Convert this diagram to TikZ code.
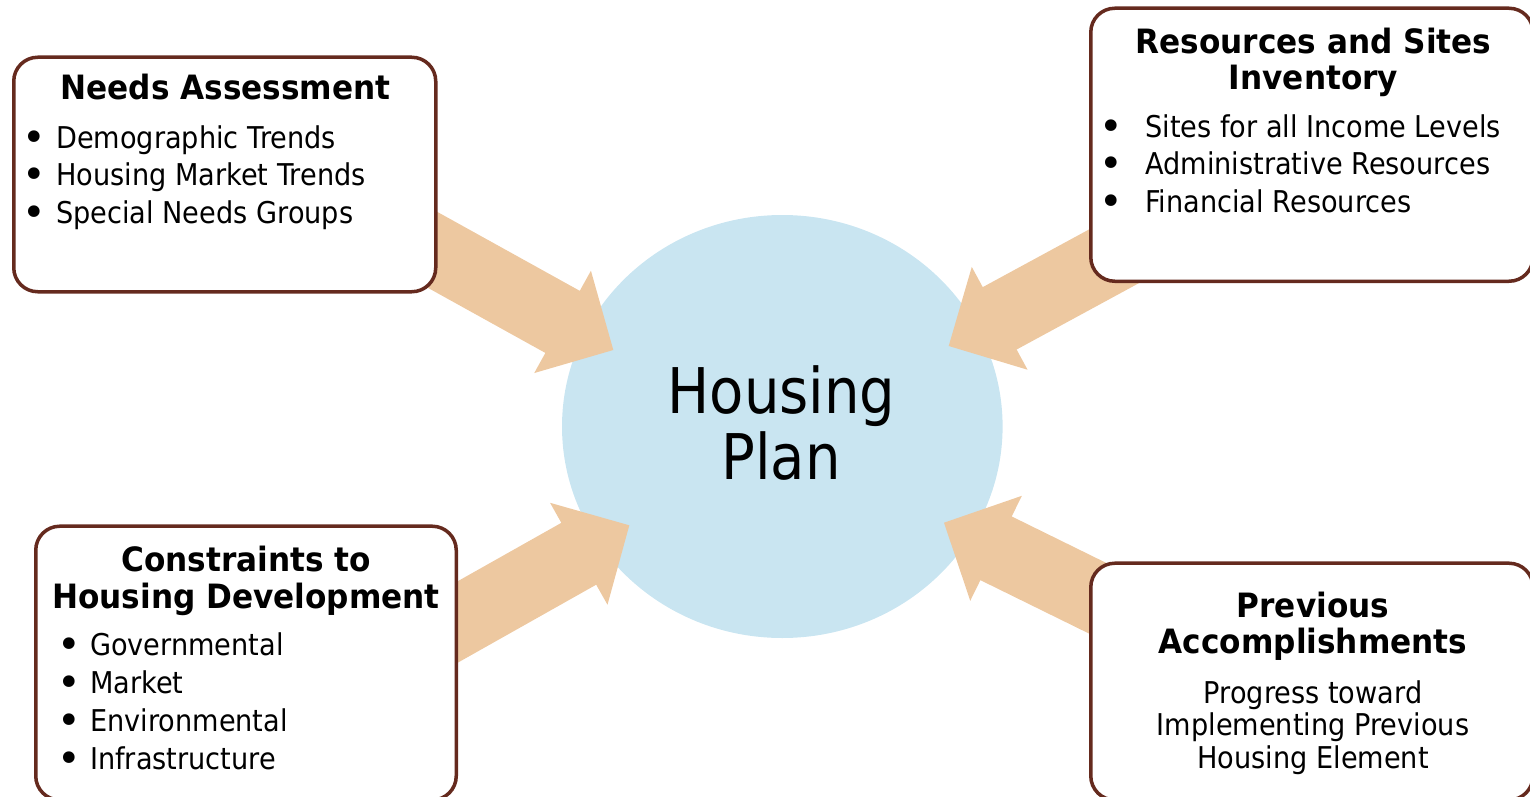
\documentclass[tikz,border=0pt]{standalone}
\usepackage{fontspec}
\setmainfont{DejaVu Sans}[FakeStretch=0.905]
\newfontfamily\titlefont{DejaVu Sans}[FakeStretch=0.93]
\newfontfamily\bigfont{DejaVu Sans}[FakeStretch=0.89]
\newfontfamily\bulletfont{DejaVu Sans}
\usetikzlibrary{calc,shapes.geometric}
\definecolor{arrowc}{RGB}{237,200,160}
\definecolor{circc}{RGB}{201,229,241}
\definecolor{borderc}{RGB}{101,42,30}
\tikzset{
  box/.style={draw=borderc, line width=3.5pt, fill=white, rounded corners=24pt, inner sep=0pt},
  ttl/.style={font=\titlefont\bfseries\fontsize{33.5}{36}\selectfont, anchor=base, inner sep=0pt},
  itm/.style={font=\fontsize{30}{37}\selectfont, anchor=base west, inner sep=0pt},
  ctr/.style={font=\fontsize{30}{37}\selectfont, anchor=base, inner sep=0pt},
  bul/.style={font=\bulletfont\fontsize{40}{40}\selectfont, anchor=base, inner sep=0pt, yshift=-3.3pt},
  big/.style={font=\bigfont\fontsize{63}{65}\selectfont, anchor=base, inner sep=0pt},
  hub/.style={ellipse, fill=circc, inner sep=0pt},
}
\newcommand\fatarrow[2]{%
  \path ($(#2)!58pt!(#1)$) coordinate (fa-base);
  \fill[arrowc] (#2) -- ($(fa-base)!58.5pt!90:(#2)$) -- ($(fa-base)!35.5pt!90:(#2)$)
    -- ($(#1)!35.5pt!90:(#2)$) -- ($(#1)!35.5pt!-90:(#2)$)
    -- ($(fa-base)!35.5pt!-90:(#2)$) -- ($(fa-base)!58.5pt!-90:(#2)$) -- cycle;}
\begin{document}
\begin{tikzpicture}[x=1pt,y=-1pt]
\useasboundingbox (0,0) rectangle (1530,797);
% hub
\node[hub, minimum width=440.6pt, minimum height=423pt] (hp) at (782.3,426.5) {};
\node[big] (hp-1) at (781.5,413) {Housing};
\node[big] (hp-2) at (781,479) {Plan};
% arrow ends
\coordinate (naTail) at (394.6,228.8);
\coordinate (naTip) at (613.3,350);
\coordinate (rsTail) at (1168.5,226.7);
\coordinate (rsTip) at (948.7,346);
\coordinate (chTail) at (411.5,648);
\coordinate (chTip) at (629.3,525.3);
\coordinate (paTail) at (1168.3,633);
\coordinate (paTip) at (944,522.7);
\fatarrow{naTail}{naTip}
\fatarrow{rsTail}{rsTip}
\fatarrow{chTail}{chTip}
\fatarrow{paTail}{paTip}
% boxes
\node[box, minimum width=422pt, minimum height=234.5pt] (na) at (224.75,174.5) {};
\node[box, minimum width=442.25pt, minimum height=273pt] (rs) at (1311.9,144.75) {};
\node[box, minimum width=420.5pt, minimum height=273.75pt] (ch) at (246,663.1) {};
\node[box, minimum width=442.25pt, minimum height=236.75pt] (pa) at (1311.9,681.6) {};
% Needs Assessment
\node[ttl] (na-t) at (225.5,100) {Needs Assessment};
\node[bul] (na-b1) at (33.8,148) {•};
\node[bul] (na-b2) at (33.8,185.5) {•};
\node[bul] (na-b3) at (33.8,223) {•};
\node[itm] (na-1) at (56,148) {Demographic Trends};
\node[itm] (na-2) at (56,185.5) {Housing Market Trends};
\node[itm] (na-3) at (56,223) {Special Needs Groups};
% Resources and Sites Inventory
\node[ttl] (rs-t1) at (1313.5,53.5) {Resources and Sites};
\node[ttl] (rs-t2) at (1313.5,89.5) {Inventory};
\node[bul] (rs-b1) at (1111,137) {•};
\node[bul] (rs-b2) at (1111,174.5) {•};
\node[bul] (rs-b3) at (1111,212) {•};
\node[itm] (rs-1) at (1145,137) {Sites for all Income Levels};
\node[itm] (rs-2) at (1145,174.5) {Administrative Resources};
\node[itm] (rs-3) at (1145,212) {Financial Resources};
% Constraints
\node[ttl] (ch-t1) at (246,571.5) {Constraints to};
\node[ttl] (ch-t2) at (246,608) {Housing Development};
\node[bul] (ch-b1) at (69.3,655.5) {•};
\node[bul] (ch-b2) at (69.3,693.5) {•};
\node[bul] (ch-b3) at (69.3,731.5) {•};
\node[bul] (ch-b4) at (69.3,769.5) {•};
\node[itm] (ch-1) at (90,655.5) {Governmental};
\node[itm] (ch-2) at (90,693.5) {Market};
\node[itm] (ch-3) at (90,731.5) {Environmental};
\node[itm] (ch-4) at (90,769.5) {Infrastructure};
% Previous Accomplishments
\node[ttl] (pa-t1) at (1313,617) {Previous};
\node[ttl] (pa-t2) at (1313,653) {Accomplishments};
\node[ctr] (pa-1) at (1313,703) {Progress toward};
\node[ctr] (pa-2) at (1313,735.5) {Implementing Previous};
\node[ctr] (pa-3) at (1313,768) {Housing Element};
\end{tikzpicture}
\end{document}
